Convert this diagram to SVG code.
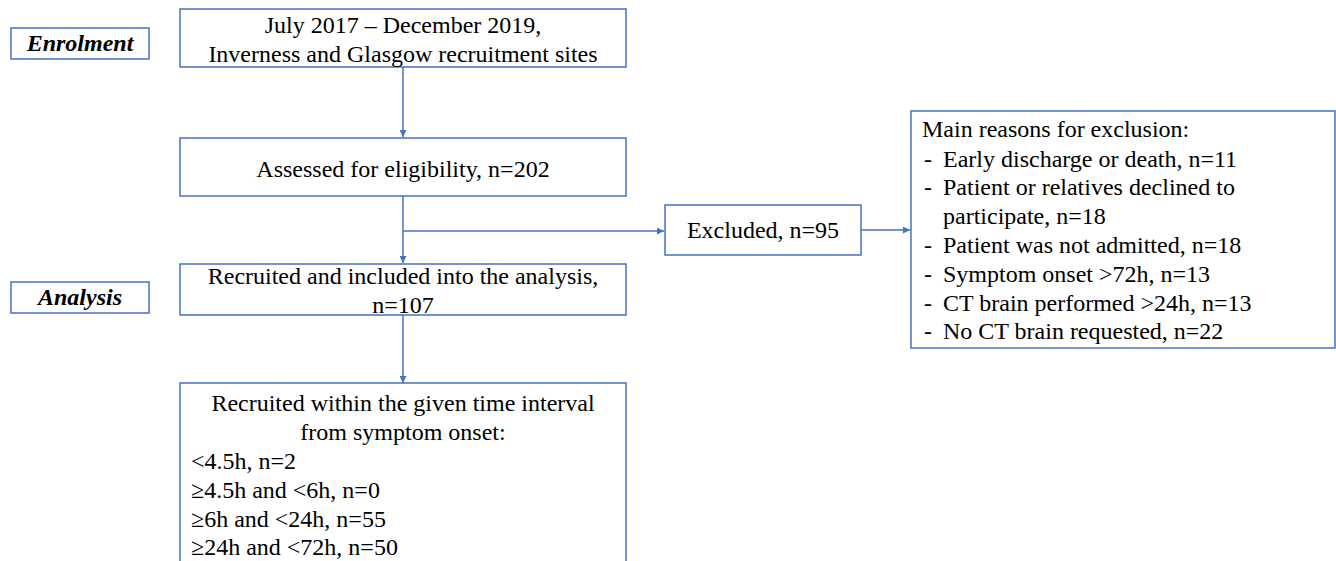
<svg xmlns="http://www.w3.org/2000/svg" width="1336" height="561" viewBox="0 0 1336 561">
<style>
.box{fill:#fff;stroke:#4472C4;stroke-width:1.5}
.t{font-family:"Liberation Serif","Times New Roman",serif;font-size:24px;fill:#000}
.c{text-anchor:middle}
.h{font-weight:bold;font-style:italic}
.ln{stroke:#4472C4;stroke-width:1.5;fill:none}
</style>
<defs>
<marker id="ah" viewBox="0 0 10 10" refX="10" refY="5" markerWidth="7" markerHeight="7" markerUnits="userSpaceOnUse" orient="auto">
<path d="M0,0 L10,5 L0,10 Z" fill="#4472C4"/>
</marker>
</defs>
<rect width="1336" height="561" fill="#fff"/>
<g id="connectors">
<line class="ln" x1="403" y1="67" x2="403" y2="137" marker-end="url(#ah)"/>
<line class="ln" x1="403" y1="196" x2="403" y2="263" marker-end="url(#ah)"/>
<line class="ln" x1="403" y1="231" x2="664" y2="231" marker-end="url(#ah)"/>
<line class="ln" x1="403" y1="315" x2="403" y2="383" marker-end="url(#ah)"/>
<line class="ln" x1="861" y1="230" x2="910" y2="230" marker-end="url(#ah)"/>
</g>
<g id="enrolment">
<rect class="box" x="11" y="28" width="138" height="31"/>
<text class="t c h" x="80" y="51">Enrolment</text>
</g>
<g id="analysis">
<rect class="box" x="11" y="282" width="138" height="31"/>
<text class="t c h" x="80" y="305">Analysis</text>
</g>
<g id="period">
<rect class="box" x="180" y="9" width="446" height="58"/>
<text class="t c" x="403" y="33">July 2017 – December 2019,</text>
<text class="t c" x="403" y="62">Inverness and Glasgow recruitment sites</text>
</g>
<g id="assessed">
<rect class="box" x="180" y="138" width="446" height="58"/>
<text class="t c" x="403" y="177">Assessed for eligibility, n=202</text>
</g>
<g id="recruited">
<rect class="box" x="180" y="264" width="446" height="51"/>
<text class="t c" x="403" y="284">Recruited and included into the analysis,</text>
<text class="t c" x="403" y="313">n=107</text>
</g>
<g id="interval">
<rect class="box" x="180" y="383" width="446" height="190"/>
<text class="t c" x="403" y="411">Recruited within the given time interval</text>
<text class="t c" x="403" y="440">from symptom onset:</text>
<text class="t" x="191" y="469">&lt;4.5h, n=2</text>
<text class="t" x="191" y="498">≥4.5h and &lt;6h, n=0</text>
<text class="t" x="191" y="527">≥6h and &lt;24h, n=55</text>
<text class="t" x="191" y="555">≥24h and &lt;72h, n=50</text>
</g>
<g id="excluded">
<rect class="box" x="665" y="205" width="196" height="50"/>
<text class="t c" x="763" y="238">Excluded, n=95</text>
</g>
<g id="reasons">
<rect class="box" x="911" y="111" width="424" height="237"/>
<text class="t" x="922" y="137">Main reasons for exclusion:</text>
<text class="t" x="924" y="167">-</text><text class="t" x="943" y="167">Early discharge or death, n=11</text>
<text class="t" x="924" y="195">-</text><text class="t" x="943" y="195">Patient or relatives declined to</text>
<text class="t" x="943" y="224">participate, n=18</text>
<text class="t" x="924" y="253">-</text><text class="t" x="943" y="253">Patient was not admitted, n=18</text>
<text class="t" x="924" y="282">-</text><text class="t" x="943" y="282">Symptom onset &gt;72h, n=13</text>
<text class="t" x="924" y="311">-</text><text class="t" x="943" y="311">CT brain performed &gt;24h, n=13</text>
<text class="t" x="924" y="339">-</text><text class="t" x="943" y="339">No CT brain requested, n=22</text>
</g>
</svg>
